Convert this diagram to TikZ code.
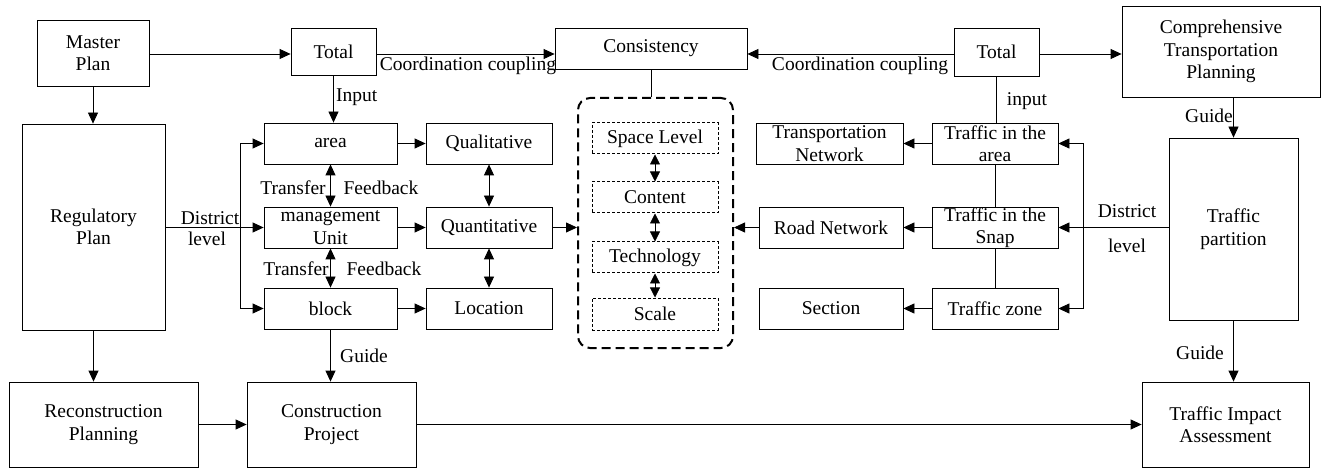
\documentclass[tikz,border=0pt]{standalone}
\usepackage{fontspec}
\setmainfont{Liberation Serif}
\newfontfamily\tnr{Liberation Serif}
\usetikzlibrary{arrows.meta}
\newcommand{\fs}{\tnr\fontsize{19.5}{22.5}\selectfont}
\tikzset{
 box/.style={draw, line width=0.8pt, inner sep=0pt, align=center, font=\fs},
 dotbox/.style={draw, line width=1pt, dash pattern=on 3pt off 2pt, inner sep=0pt, align=center, font=\fs},
 lab/.style={inner sep=0pt, font=\fs},
 arr/.style={line width=0.8pt, -{Triangle[length=11pt,width=10pt]}},
 darr/.style={line width=0.8pt, {Triangle[length=11pt,width=10pt]}-{Triangle[length=11pt,width=10pt]}},
 sdarr/.style={line width=0.8pt, {Triangle[length=10pt,width=10pt]}-{Triangle[length=10pt,width=10pt]}},
 ln/.style={line width=0.8pt},
}
\begin{document}
\begin{tikzpicture}[x=1pt,y=-1pt]
\useasboundingbox (0,0) rectangle (1322,470);
% boxes
\node[box, minimum width=112pt, minimum height=66pt] (master) at (93,53) {Master\\Plan};
\node[box, minimum width=85pt, minimum height=47pt] (totalL) at (333.5,51.5) {Total};
\node[box, minimum width=192pt, minimum height=41pt] (cons) at (651,48.5) {Consistency};
\node[box, minimum width=85pt, minimum height=48pt] (totalR) at (996.5,52) {Total};
\node[box, minimum width=198pt, minimum height=91pt] (comp) at (1221,51.5) {Comprehensive\\Transportation\\Planning};
\node[box, minimum width=143pt, minimum height=206pt] (reg) at (93.5,227) {Regulatory\\Plan};
\node[box, minimum width=133pt, minimum height=41pt] (area) at (330.5,143.5) {area};
\node[box, minimum width=126pt, minimum height=41pt] (qual) at (489,143.5) {Qualitative};
\node[box, minimum width=133pt, minimum height=41pt] (mgmt) at (330.5,227.5) {management\\Unit};
\node[box, minimum width=126pt, minimum height=41pt] (quant) at (489,227.5) {Quantitative};
\node[box, minimum width=133pt, minimum height=41pt] (block) at (330.5,308.5) {block};
\node[box, minimum width=126pt, minimum height=41pt] (loc) at (489,308.5) {Location};
\node[draw, line width=2pt, dash pattern=on 9pt off 5pt, rounded corners=12pt, minimum width=155pt, minimum height=250pt, inner sep=0pt] (dbox) at (655.5,223) {};
\node[dotbox, minimum width=126pt, minimum height=31pt] (space) at (655,138.5) {Space Level};
\node[dotbox, minimum width=126pt, minimum height=31pt] (content) at (655,197.5) {Content};
\node[dotbox, minimum width=126pt, minimum height=31pt] (tech) at (655,257.5) {Technology};
\node[dotbox, minimum width=126pt, minimum height=32pt] (scale) at (655,314) {Scale};
\node[box, minimum width=147pt, minimum height=41pt] (tnet) at (829.5,143.5) {Transportation\\Network};
\node[box, minimum width=144pt, minimum height=41pt] (road) at (831,227.5) {Road Network};
\node[box, minimum width=144pt, minimum height=41pt] (section) at (831,308.5) {Section};
\node[box, minimum width=126pt, minimum height=41pt] (tarea) at (995,143.5) {Traffic in the\\area};
\node[box, minimum width=126pt, minimum height=41pt] (tsnap) at (995,227.5) {Traffic in the\\Snap};
\node[box, minimum width=126pt, minimum height=41pt] (tzone) at (995,308.5) {Traffic zone};
\node[box, minimum width=129pt, minimum height=182pt] (part) at (1233.5,229) {Traffic\\partition};
\node[box, minimum width=167pt, minimum height=85pt] (tia) at (1225.5,424.5) {Traffic Impact\\Assessment};
\node[box, minimum width=189pt, minimum height=85pt] (recon) at (103.5,424.5) {Reconstruction\\Planning};
\node[box, minimum width=169pt, minimum height=85pt] (constr) at (331.5,424.5) {Construction\\Project};
% branch coordinates
\coordinate (bl) at (240,0);
\coordinate (br) at (1083,0);
% top arrows
\draw[arr] (master.east |- 0,54) -- (totalL.west |- 0,54);
\draw[arr] (totalL.east |- 0,54) -- (cons.west |- 0,54);
\draw[arr] (totalR.west |- 0,54) -- (cons.east |- 0,54);
\draw[arr] (totalR.east |- 0,54) -- (comp.west |- 0,54);
% left column
\draw[arr] (master.south) -- (master.south |- reg.north);
\draw[arr] (reg.south) -- (reg.south |- recon.north);
\draw[arr] (recon.east) -- (constr.west);
\draw[arr] (constr.east) -- (tia.west);
\draw[arr] (totalL.south) -- (totalL.south |- area.north);
\draw[arr] (reg.east |- mgmt.west) -- (mgmt.west);
\draw[arr] (bl |- area.west) -- (area.west);
\draw[arr] (bl |- area.west) -- (bl |- block.west) -- (block.west);
\draw[darr] (area.south) -- (mgmt.north);
\draw[darr] (mgmt.south) -- (block.north);
\draw[arr] (block.south) -- (block.south |- constr.north);
\draw[arr] (area.east) -- (qual.west);
\draw[arr] (mgmt.east) -- (quant.west);
\draw[arr] (block.east) -- (loc.west);
\draw[darr] (qual.south) -- (quant.north);
\draw[darr] (quant.south) -- (loc.north);
\draw[arr] (quant.east) -- (dbox.west |- quant.east);
% center
\draw[ln] (cons.south) -- (cons.south |- dbox.north);
\draw[sdarr] (space.south) -- (content.north);
\draw[sdarr] (content.south) -- (tech.north);
\draw[sdarr] (tech.south) -- (scale.north);
% right side
\draw[arr] (road.west) -- (dbox.east |- road.west);
\draw[ln] (totalR.south) -- (totalR.south |- tarea.north);
\draw[ln] (tarea.south) -- (tsnap.north);
\draw[ln] (tsnap.south) -- (tzone.north);
\draw[arr] (tarea.west) -- (tnet.east);
\draw[arr] (tsnap.west) -- (road.east);
\draw[arr] (tzone.west) -- (section.east);
\draw[arr] (part.west |- tsnap.east) -- (tsnap.east);
\draw[arr] (br |- tzone.east) -- (br |- tarea.east) -- (tarea.east);
\draw[arr] (br |- tzone.east) -- (tzone.east);
\draw[arr] (part.north |- comp.south) -- (part.north);
\draw[arr] (part.south) -- (part.south |- tia.north);
% labels
\node[lab, anchor=west] (inp) at (336,97) {Input};
\node[lab] (ccL) at (468,66) {Coordination coupling};
\node[lab] (ccR) at (860,66) {Coordination coupling};
\node[lab] (inpR) at (1027,101) {input};
\node[lab] (guideTR) at (1209,116) {Guide};
\node[lab] (distR) at (1127,211) {District};
\node[lab] (levR) at (1127,246) {level};
\node[lab] (distL) at (210,218) {District};
\node[lab] (levL) at (207,239) {level};
\node[lab] (tr1) at (293,188) {Transfer};
\node[lab] (fb1) at (381,188) {Feedback};
\node[lab] (tr2) at (296,269) {Transfer};
\node[lab] (fb2) at (384,269) {Feedback};
\node[lab] (guideL) at (364,356) {Guide};
\node[lab] (guideBR) at (1200,353) {Guide};
\end{tikzpicture}
\end{document}
